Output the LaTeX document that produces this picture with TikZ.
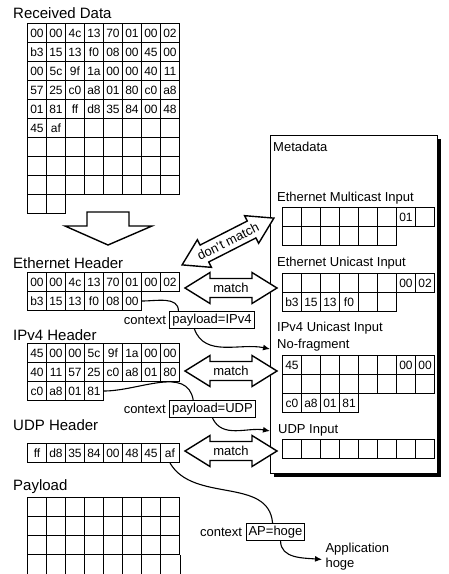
\documentclass[tikz,border=0pt]{standalone}
\usepackage{fontspec}
\setmainfont{Liberation Sans}
\usetikzlibrary{positioning, arrows.meta, shadows}

% one grid of byte cells: name, left x, top y, list of rows
\newcommand{\bytegrid}[4]{%
  \foreach \gr [count=\ri] in {#4} {
    \foreach \gb [count=\ci] in \gr {
      \node[cell] (#1-\ri-\ci) at ({#2+(\ci-1)*19}, {-#3-(\ri-1)*19}) {\gb};
    }
  }%
}

\begin{document}
\begin{tikzpicture}[
    x=1pt, y=1pt,
    cell/.style={draw, line width=1pt, minimum width=19pt, minimum height=19pt,
                 inner sep=0pt, anchor=north west, font=\fontsize{12}{12}\selectfont},
    title/.style={anchor=west, inner sep=0pt, font=\fontsize{15}{17}\selectfont},
    txt/.style={font=\fontsize{13}{15}\selectfont},
    sublbl/.style={txt, anchor=west, inner sep=0pt},
    ctx/.style={draw, line width=1pt, inner sep=2.5pt, txt},
    metabox/.style={draw, line width=1pt, fill=white,
                    drop shadow={shadow xshift=3.5pt, shadow yshift=-3.5pt,
                                 fill=black, opacity=1}},
    blockarrow/.style={draw, line width=1.4pt, fill=white, line join=miter},
    dblarrow/.pic={\draw[blockarrow] (-#1,0) -- (-#1+25,15.5) -- (-#1+25,9.5)
        -- (#1-25,9.5) -- (#1-25,15.5) -- (#1,0) -- (#1-25,-15.5)
        -- (#1-25,-9.5) -- (-#1+25,-9.5) -- (-#1+25,-15.5) -- cycle;},
    link/.style={line width=1.1pt},
    arrow/.style={link, -{Latex[length=7pt, width=6pt]}}
]
  \useasboundingbox (0,0) rectangle (449,-574);

  % Received data
  \node[title] (rxt) at (13,-13) {Received Data};
  \bytegrid{rx}{27}{23}{{00,00,4c,13,70,01,00,02},{b3,15,13,f0,08,00,45,00},
    {00,5c,9f,1a,00,00,40,11},{57,25,c0,a8,01,80,c0,a8},{01,81,ff,d8,35,84,00,48},
    {45,af,{},{},{},{},{},{}},{{},{},{},{},{},{},{},{}},{{},{},{},{},{},{},{},{}},
    {{},{},{},{},{},{},{},{}},{{},{}}}

  % Split into headers
  \draw[blockarrow] (87,-212) -- (129,-212) -- (129,-226) -- (152,-226)
    -- (108,-245) -- (65,-226) -- (87,-226) -- cycle;

  \node[title] (etht) at (13,-263) {Ethernet Header};
  \bytegrid{eth}{27}{272}{{00,00,4c,13,70,01,00,02},{b3,15,13,f0,08,00}}

  \node[title] (ipt) at (13,-335) {IPv4 Header};
  \bytegrid{ip}{27}{343}{{45,00,00,5c,9f,1a,00,00},{40,11,57,25,c0,a8,01,80},{c0,a8,01,81}}

  \node[title] (udpt) at (13,-425) {UDP Header};
  \bytegrid{udp}{27}{443}{{ff,d8,35,84,00,48,45,af}}

  \node[title] (payt) at (13,-487) {Payload};
  \bytegrid{pay}{27}{497}{{{},{},{},{},{},{},{},{}},{{},{},{},{},{},{},{},{}},
    {{},{},{},{},{},{},{},{}}}
  \foreach \gc in {1,...,8}
    \draw[line width=1pt] (pay-3-\gc.south west) -- ++(0,-24);
  \draw[line width=1pt] (pay-3-8.south east) -- ++(0,-24);

  % Metadata
  \node[metabox, minimum width=167pt, minimum height=338pt, anchor=north west]
    (meta) at (270,-135) {};
  \node[sublbl] (metat) at (273,-147) {Metadata};

  \node[sublbl] (emct) at (277,-198) {Ethernet Multicast Input};
  \bytegrid{emc}{282}{207}{{{},{},{},{},{},{},01,{}},{{},{},{},{},{},{}}}

  \node[sublbl] (euct) at (277,-263) {Ethernet Unicast Input};
  \bytegrid{euc}{282}{273}{{{},{},{},{},{},{},00,02},{b3,15,13,f0,{},{}}}

  \node[sublbl] (iput) at (277,-328) {IPv4 Unicast Input};
  \node[sublbl] (ipnf) at (277,-345) {No-fragment};
  \bytegrid{ipu}{282}{355}{{45,{},{},{},{},{},00,00},{{},{},{},{},{},{},{},{}},{c0,a8,01,81}}

  \node[sublbl] (udpit) at (278,-430) {UDP Input};
  \bytegrid{udpi}{282}{439}{{{},{},{},{},{},{},{},{}}}

  % Matching
  \pic[rotate=27] at (228,-241.5) {dblarrow=51.5};
  \node[txt, rotate=27, inner sep=0pt] (nomatch) at (228,-241.5) {don't match};
  \pic at (231,-288) {dblarrow=46};
  \node[txt] (match1) at (231,-288) {match};
  \pic at (231,-371) {dblarrow=46};
  \node[txt] (match2) at (231,-371) {match};
  \pic at (231,-451) {dblarrow=46};
  \node[txt] (match3) at (231,-451) {match};

  % Contexts
  \node[ctx] (ctxip) at (212,-320) {payload=IPv4};
  \node[txt, left=0pt of ctxip] (ctxipl) {context};
  \node[ctx] (ctxudp) at (212.5,-409) {payload=UDP};
  \node[txt, left=0pt of ctxudp] (ctxudpl) {context};
  \node[ctx] (ctxap) at (275.5,-532) {AP=hoge};
  \node[txt, left=0pt of ctxap] (ctxapl) {context};
  \node[txt, align=left, anchor=west] (app) at (322,-556.5) {Application\\hoge};

  \coordinate (ipin) at (270,-349);
  \coordinate (udpin) at (270,-431);

  % Links
  \draw[link] (eth-2-6.east) to[out=0, in=90] ([xshift=9pt]ctxip.north west);
  \draw[arrow] ([xshift=25pt]ctxip.south west) to[out=-70, in=168] (ipin);
  \draw[link] (ip-3-4.east) to[out=0, in=100] ([xshift=24pt]ctxudp.north west);
  \draw[arrow] (ctxudp.south) to[out=-65, in=170] (udpin);
  \draw[link] (udp-1-8.south) to[out=-60, in=95] ([xshift=27pt]ctxap.north west);
  \draw[arrow] ([xshift=35pt]ctxap.south west) to[out=-90, in=175] ([yshift=-3pt]app.west);
\end{tikzpicture}
\end{document}
